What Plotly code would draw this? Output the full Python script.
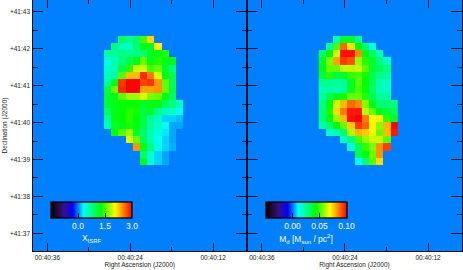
import plotly.graph_objects as go
from plotly.subplots import make_subplots

N = None
X_ISRF = [
 [N,N,.9,.75,.9,1.5,2.2,N,N,N,N],
 [N,.85,.55,.5,.85,1.2,1.15,2.1,N,N,N],
 [.7,.7,.8,.75,.8,.85,1.15,1.2,1.4,N,N],
 [.4,.6,.8,1.05,1.2,1.6,1.2,1.4,1.2,1.2,N],
 [.5,.6,1.0,1.4,1.9,1.9,1.5,1.6,1.1,.8,N],
 [.55,.65,1.55,2.3,2.3,2.85,2.55,1.95,1.2,1.0,N],
 [.7,1.2,2.8,3.0,3.0,2.75,2.8,2.45,1.6,1.0,N],
 [1.05,1.6,2.85,3.0,3.0,2.4,2.4,2.45,1.6,1.0,N],
 [1.1,1.2,1.55,1.75,1.75,1.95,1.65,1.6,1.2,.95,N],
 [1.1,1.2,1.3,1.3,1.3,1.15,1.2,1.2,.95,.8,.55],
 [.9,1.2,1.25,1.4,1.35,1.05,1.15,.75,.55,.5,.35],
 [.7,1.2,1.3,1.4,1.3,1.0,.7,.55,.2,.2,.15],
 [.55,1.15,1.2,1.35,1.25,1.0,.7,.5,.3,.1,.1],
 [N,1.2,1.55,1.75,1.1,.9,.6,.45,.25,.1,N],
 [N,N,N,1.95,1.6,.95,.6,.35,.2,.1,N],
 [N,N,N,N,2.45,1.2,.75,.4,.2,.12,N],
 [N,N,N,N,N,.85,.5,.2,.1,N,N],
 [N,N,N,N,N,1.2,.45,.2,.1,N,N],
]
M_D_MILLI = [
 [N,N,20,38,38,25,N,N,N,N,N],
 [N,22,50,87,72,43,30,12,N,N,N],
 [30,42,63,98,98,83,42,30,20,N,N],
 [38,55,80,93,90,58,47,37,27,18,N],
 [40,53,53,62,62,63,52,37,32,27,N],
 [37,47,35,37,48,50,45,33,25,23,N],
 [25,23,22,23,38,52,43,32,20,18,N],
 [20,22,20,23,38,50,42,30,20,18,N],
 [23,33,40,45,53,53,47,33,23,23,N],
 [27,40,63,77,87,83,57,40,28,28,27],
 [28,45,73,85,97,97,62,53,40,35,32],
 [28,40,58,77,98,100,85,68,70,47,38],
 [22,28,43,53,75,93,88,70,57,77,100],
 [N,18,20,28,60,78,75,70,53,77,97],
 [N,N,N,17,27,50,58,63,63,52,N],
 [N,N,N,N,15,32,48,55,82,92,N],
 [N,N,N,N,N,32,40,53,82,N,N],
 [N,N,N,N,N,10,28,52,73,N,N],
]
RA_TICKS = [36, 24, 12]
RA_LABELS = ["00:40:36", "00:40:24", "00:40:12"]
RA_MINOR = [30, 18]
DEC_TICKS = [37, 38, 39, 40, 41, 42, 43]
DEC_LABELS = ["+41:37", "+41:38", "+41:39", "+41:40", "+41:41", "+41:42", "+41:43"]
DEC_MINOR = [37.5, 38.5, 39.5, 40.5, 41.5, 42.5]

W, H = 463, 270
FONT = "Liberation Sans"
INK = "#05101f"
BG = "#0080ff"
CMAP = [[0, "#000000"], [.08, "#240a36"], [.16, "#35108a"], [.27, "#0000ff"],
        [.40, "#00ffff"], [.62, "#00ff00"], [.79, "#ffff00"], [.895, "#ff8000"], [1, "#ff0000"]]

M_D = [[None if v is None else v / 1000 for v in r] for r in M_D_MILLI]

fig = make_subplots(rows=1, cols=2, horizontal_spacing=0)


def heat(z, zmin, zmax, cx, vals, text, title):
    return go.Heatmap(
        z=z, x0=27.27, dx=-1.041, y0=42.252, dy=-0.195,
        zmin=zmin, zmax=zmax, colorscale=CMAP, hoverongaps=False,
        colorbar=dict(
            orientation="h", x=cx / W, xanchor="left", y=1 - 201.5 / H, yanchor="top",
            lenmode="pixels", len=81, thicknessmode="pixels", thickness=16,
            xpad=0, ypad=0, outlinecolor="#000000", outlinewidth=1.3,
            tickmode="array", tickvals=vals, ticktext=text, ticks="inside", ticklen=5,
            tickcolor="#000000", tickwidth=1,
            tickfont=dict(family=FONT, size=8.5, color="#ffffff"),
            title=dict(text=title, side="bottom", font=dict(family=FONT, size=8.5, color="#ffffff")),
        ),
    )


fig.add_trace(heat(X_ISRF, -1.5, 3.0, 51, [0, 1.5, 3.0], ["0.0", "1.5", "3.0"], "X<sub>ISRF</sub>"), 1, 1)
fig.add_trace(heat(M_D, -0.05, 0.10, 265.5, [0, .05, .10], ["0.00", "0.05", "0.10"],
                   "M<sub>d</sub> [M<sub>sun</sub> / pc<sup>2</sup>]"), 1, 2)

for col, dom in ((1, [32.5 / W, 247 / W]), (2, [247 / W, 462 / W])):
    fig.update_xaxes(
        row=1, col=col, domain=dom, range=[38.15, 7.1], showgrid=False, zeroline=False,
        showline=True, linecolor=INK, linewidth=1.4, mirror="ticks",
        tickmode="array", tickvals=RA_TICKS, ticktext=RA_LABELS, ticks="inside", ticklen=8,
        tickwidth=1.1, tickcolor=INK, tickfont=dict(family=FONT, size=6.5, color="#222222"),
        minor=dict(tickmode="array", tickvals=RA_MINOR, ticks="inside", ticklen=4, tickwidth=1, tickcolor=INK),
        title=dict(text="Right Ascension (J2000)", font=dict(family=FONT, size=6.5, color="#222222"), standoff=0),
    )
    fig.update_yaxes(
        row=1, col=col, domain=[1 - 251 / H, 1], range=[36.52, 43.325], showgrid=False, zeroline=False,
        showline=True, linecolor=INK, linewidth=1.4, mirror="ticks",
        tickmode="array", tickvals=DEC_TICKS, ticktext=DEC_LABELS,
        ticks="inside", ticklen=10.5, tickwidth=1.1, tickcolor=INK,
        showticklabels=col == 1, tickfont=dict(family=FONT, size=6.5, color="#222222"),
        minor=dict(tickmode="array", tickvals=DEC_MINOR, ticks="inside", ticklen=5, tickwidth=1, tickcolor=INK),
    )
fig.update_yaxes(row=1, col=1,
                 title=dict(text="Declination (J2000)", font=dict(family=FONT, size=6.5, color="#222222"), standoff=1))

fig.update_layout(width=W, height=H, margin=dict(l=0, r=0, t=0, b=0),
                  paper_bgcolor="#ffffff", plot_bgcolor=BG, showlegend=False)
fig.write_html("out.html", config=dict(displayModeBar=False),
               post_script="document.body.style.margin='0';document.body.style.overflow='hidden';")
